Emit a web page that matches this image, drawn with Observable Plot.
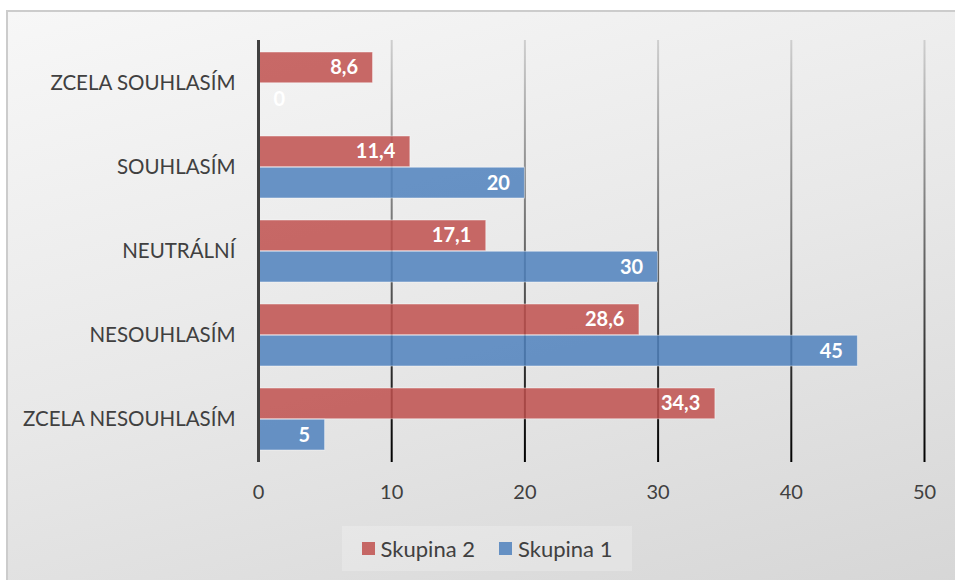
<!DOCTYPE html>
<html>
<head>
<meta charset="utf-8">
<script src="https://cdn.jsdelivr.net/npm/d3@7"></script>
<script src="https://cdn.jsdelivr.net/npm/@observablehq/plot@0.6"></script>
<style>
  html, body { margin: 0; padding: 0; background: #fff; overflow: hidden; }
  #page { position: relative; width: 955px; height: 580px; overflow: hidden; font-family: Lato, "Open Sans", sans-serif; }
  #frame { position: absolute; left: 6px; top: 10px; width: 960px; height: 580px;
    border-left: 2px solid #cccccc; border-top: 2px solid #cccccc; box-sizing: border-box;
    background: linear-gradient(165deg, #f7f7f7 0%, #e8e8e8 50%, #d6d6d6 100%); }
  #chart { position: absolute; left: 0; top: 0; }
  #legend { position: absolute; left: 342px; top: 526px; width: 290px; height: 45px;
    background: rgba(255,255,255,0.22); display: flex; align-items: center; justify-content: center;
    gap: 24px; font-size: 22px; color: #404040; }
  #legend .item { display: flex; align-items: center; gap: 6px; }
  #legend .sw { width: 13px; height: 13px; display: inline-block; }
</style>
</head>
<body>
<div id="page">
  <div id="frame"></div>
  <div id="chart"></div>
  <div id="legend"></div>
</div>
<script>
const categories = ["ZCELA SOUHLASÍM", "SOUHLASÍM", "NEUTRÁLNÍ", "NESOUHLASÍM", "ZCELA NESOUHLASÍM"];
const skupina2 = [8.6, 11.4, 17.1, 28.6, 34.3];
const skupina1 = [0, 20, 30, 45, 5];
const xTicks = [0, 10, 20, 30, 40, 50];
const seriesNames = ["Skupina 2", "Skupina 1"];
const seriesColors = ["#c0504d", "#4f81bd"];

const fmt = v => String(v).replace(".", ",");
const d2 = categories.map((c, i) => ({cat: c, v: skupina2[i]}));
const d1 = categories.map((c, i) => ({cat: c, v: skupina1[i]}));

const W = 955, H = 520, mTop = 40, mBottom = 58, mLeft = 258, mRight = 31;
const step = (H - mTop - mBottom) / categories.length;
const half = step * 0.74 / 2;

const labelStyle = {fill: "white", fontWeight: "bold", fontSize: 20, textAnchor: "end", dx: -15};

const chart = Plot.plot({
  width: W, height: H,
  marginTop: mTop, marginBottom: mBottom, marginLeft: mLeft, marginRight: mRight,
  style: {background: "transparent", fontFamily: "Lato, 'Open Sans', sans-serif", fontSize: "20px", color: "#404040"},
  x: {domain: [0, 50], ticks: xTicks, tickSize: 0, tickPadding: 22, label: null, tickFormat: d => String(d)},
  y: {domain: categories, paddingInner: 0.26, paddingOuter: 0.13, tickSize: 0, tickPadding: 23, label: null},
  marks: [
    Plot.ruleX(xTicks.filter(t => t > 0), {stroke: "#888", strokeWidth: 2}),
    Plot.barX(d2, {x: "v", y: "cat", fill: seriesColors[0], fillOpacity: 0.85, stroke: "#fff", strokeOpacity: 0.45, strokeWidth: 1, insetBottom: half}),
    Plot.barX(d1, {x: "v", y: "cat", fill: seriesColors[1], fillOpacity: 0.85, stroke: "#fff", strokeOpacity: 0.45, strokeWidth: 1, insetTop: half}),
    Plot.text(d2.filter(d => d.v > 0), {x: "v", y: "cat", text: d => fmt(d.v), dy: -half / 2, ...labelStyle}),
    Plot.text(d1.filter(d => d.v > 0), {x: "v", y: "cat", text: d => fmt(d.v), dy: half / 2, ...labelStyle}),
    Plot.text(d1.filter(d => d.v === 0), {x: "v", y: "cat", text: d => fmt(d.v), dy: half / 2, ...labelStyle, textAnchor: "start", dx: 15}),
    Plot.ruleX([0], {stroke: "#404040", strokeWidth: 3})
  ]
});

// vertical gradient for gridlines (light at top, black at bottom)
const yr = chart.scale("y").range;
const svg = d3.select(chart.tagName.toLowerCase() === "svg" ? chart : chart.querySelector("svg"));
const defs = svg.insert("defs", ":first-child");
const grad = defs.append("linearGradient").attr("id", "gridGrad")
  .attr("gradientUnits", "userSpaceOnUse").attr("x1", 0).attr("x2", 0)
  .attr("y1", Math.min(...yr)).attr("y2", Math.max(...yr));
grad.append("stop").attr("offset", "0%").attr("stop-color", "#cfcfcf");
grad.append("stop").attr("offset", "100%").attr("stop-color", "#000000");
const ruleGroups = svg.selectAll("g[aria-label='rule']").nodes();
if (ruleGroups.length) d3.select(ruleGroups[0]).attr("stroke", "url(#gridGrad)").selectAll("line").attr("stroke", "url(#gridGrad)");
svg.selectAll("g[aria-label='y-axis tick label'] text, g[aria-label='x-axis tick label'] text").attr("fill", "#404040");
svg.selectAll("g[aria-label='y-axis tick label']").attr("font-size", "20.5px");

document.getElementById("chart").appendChild(chart);

const legend = document.getElementById("legend");
seriesNames.forEach((n, i) => {
  const it = document.createElement("span");
  it.className = "item";
  it.innerHTML = `<span class="sw" style="background:${seriesColors[i]};opacity:0.85"></span><span>${n}</span>`;
  legend.appendChild(it);
});
</script>
</body>
</html>
